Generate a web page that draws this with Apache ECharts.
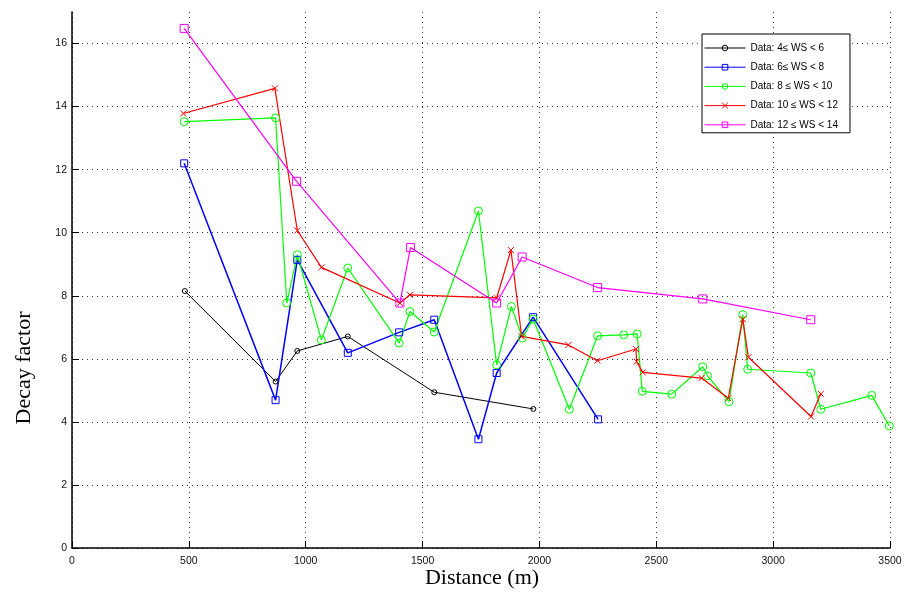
<!DOCTYPE html>
<html>
<head>
<meta charset="utf-8">
<script src="https://cdn.jsdelivr.net/npm/echarts@6/dist/echarts.min.js"></script>
<style>
html,body{margin:0;padding:0;background:#fff;}
#chart{width:905px;height:595px;}
</style>
</head>
<body>
<div id="chart"></div>
<script>
// ---- data ----
const seriesNames = [
  'Data: 4\u2264 WS < 6',
  'Data: 6\u2264 WS < 8',
  'Data: 8 \u2264 WS < 10',
  'Data: 10 \u2264 WS < 12',
  'Data: 12 \u2264 WS < 14'
];
const ws4to6 = [[483,8.15],[871,5.28],[964,6.25],[1180,6.71],[1550,4.94],[1974,4.41]];
const ws6to8 = [[480,12.2],[871,4.69],[964,9.14],[1180,6.19],[1400,6.84],[1550,7.24],[1739,3.45],[1817,5.55],[1973,7.32],[2251,4.08]];
const ws8to10 = [[480,13.52],[871,13.64],[919,7.77],[964,9.30],[1067,6.60],[1180,8.88],[1400,6.50],[1446,7.50],[1550,6.85],[1739,10.69],[1817,5.81],[1880,7.66],[1927,6.66],[1973,7.26],[2128,4.40],[2249,6.73],[2361,6.76],[2418,6.79],[2440,4.97],[2566,4.88],[2699,5.75],[2719,5.46],[2811,4.64],[2870,7.40],[2891,5.67],[3161,5.55],[3204,4.40],[3422,4.84],[3497,3.87]];
const ws10to12 = [[476,13.78],[868,14.58],[964,10.07],[1067,8.90],[1403,7.77],[1446,8.03],[1817,7.93],[1878,9.45],[1924,6.71],[2124,6.44],[2248,5.94],[2413,6.31],[2416,5.91],[2442,5.57],[2694,5.39],[2808,4.75],[2870,7.26],[2894,6.05],[3162,4.17],[3204,4.89]];
const ws12to14 = [[480,16.48],[961,11.63],[1403,7.77],[1448,9.53],[1817,7.77],[1926,9.23],[2249,8.26],[2699,7.90],[3161,7.24]];
const xTicks = [0,500,1000,1500,2000,2500,3000,3500];
const yTicks = [0,2,4,6,8,10,12,14,16];

const allData = [ws4to6, ws6to8, ws8to10, ws10to12, ws12to14];
const colors = ['#000000','#0000ff','#00ff00','#ff0000','#ff00ff'];
const symbols = ['circle','rect','circle','path://M0,0L10,10M10,0L0,10','rect'];
const symSizes = [5,7,8,6,8];
const widths = [1,1.5,1.2,1.2,1.2];

const chart = echarts.init(document.getElementById('chart'), null, {renderer:'canvas'});
const tickFont = {fontFamily:'Liberation Sans', fontSize:10.5, color:'#111'};

const series = allData.map((d,i)=>({
  name: seriesNames[i],
  type:'line',
  data:d,
  symbol:symbols[i],
  symbolSize:symSizes[i],
  showSymbol:true,
  animation:false,
  lineStyle:{color:colors[i], width:widths[i]},
  itemStyle:{color:'#ffffff00', borderColor:colors[i], borderWidth:1},
  emphasis:{disabled:true}
}));

chart.setOption({
  animation:false,
  backgroundColor:'#ffffff',
  grid:{left:72, right:15, top:12, bottom:47, containLabel:false},
  xAxis:{
    type:'value', min:xTicks[0], max:xTicks[xTicks.length-1], interval:500,
    axisLine:{show:true, lineStyle:{color:'#000', width:1.5}},
    axisTick:{show:true, inside:true, length:7, lineStyle:{color:'#000', width:1}},
    axisLabel:{...tickFont, margin:8, formatter:v=>String(v)},
    splitLine:{show:true, lineStyle:{color:'#333', width:1, type:[1,4]}}
  },
  yAxis:{
    type:'value', min:0, max:17, interval:2,
    axisLine:{show:true, lineStyle:{color:'#000', width:1.5}},
    axisTick:{show:true, inside:true, length:7, lineStyle:{color:'#000', width:1}},
    axisLabel:{...tickFont, margin:5, showMaxLabel:false,
      formatter:v=> yTicks.indexOf(v)>=0 ? String(v) : ''},
    splitLine:{show:true, showMaxLine:false, lineStyle:{color:'#333', width:1, type:[1,4]}}
  },
  legend:{
    show:true, orient:'vertical', left:702, top:34,
    backgroundColor:'#ffffff', borderColor:'#000', borderWidth:1,
    padding:[9,12,3,2], itemWidth:41, itemHeight:7, itemGap:9.2,
    lineStyle:{width:1},
    itemStyle:{borderWidth:1},
    textStyle:{fontFamily:'Liberation Sans', fontSize:10, color:'#000'},
    data:seriesNames
  },
  graphic:[
    {type:'text', x:24, y:368, rotation:Math.PI/2,
     style:{text:'Decay factor', font:'22px "Liberation Serif"', fill:'#000', textAlign:'center', textVerticalAlign:'middle'}},
    {type:'text', x:482, y:578,
     style:{text:'Distance (m)', font:'22px "Liberation Serif"', fill:'#000', textAlign:'center', textVerticalAlign:'middle'}}
  ],
  series:series
});
</script>
</body>
</html>
